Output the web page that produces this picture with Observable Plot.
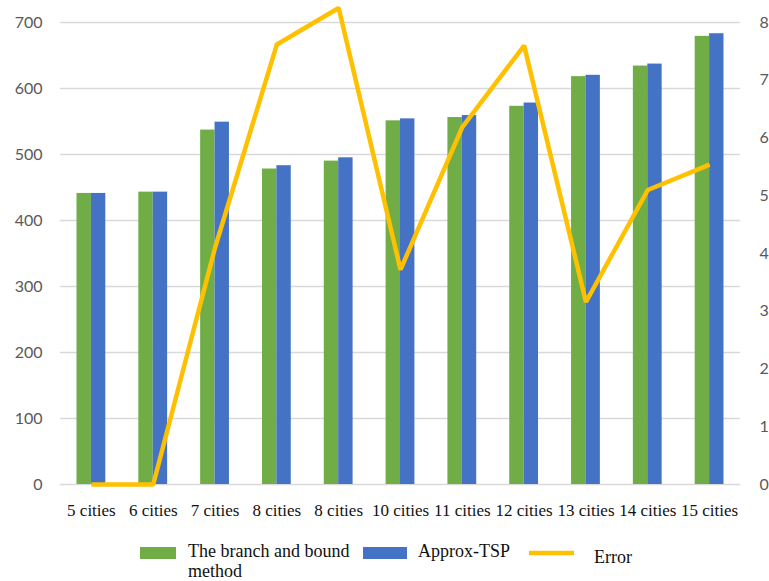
<!DOCTYPE html>
<html>
<head>
<meta charset="utf-8">
<script src="https://cdn.jsdelivr.net/npm/d3@7"></script>
<script src="https://cdn.jsdelivr.net/npm/@observablehq/plot@0.6"></script>
<style>
  html, body { margin: 0; padding: 0; background: #fff; }
  #wrap { position: relative; width: 769px; height: 581px; }
  #legend { position: absolute; left: 0; top: 0; pointer-events: none; }
  #legend text { font-family: "Liberation Serif", "DejaVu Serif", serif; font-size: 18px; fill: #111; }
  #wrap svg g[aria-label="text"] text {
    font-family: "Liberation Serif", "DejaVu Serif", serif !important;
    font-size: 17px !important;
  }
</style>
</head>
<body>
<div id="wrap"></div>
<script>
// Tour lengths per problem size, and the relative error (%) of Approx-TSP
const categories = ["5 cities", "6 cities", "7 cities", "8 cities", "8 cities", "10 cities",
                    "11 cities", "12 cities", "13 cities", "14 cities", "15 cities"];
const branchBound = [441, 443, 537, 478, 490, 551, 556, 573, 618, 634, 679];
const approxTSP   = [441, 443, 549, 483, 495, 554, 559, 578, 620, 637, 683];
const errorPct    = [0, 0, 4.1, 7.62, 8.25, 3.72, 6.19, 7.6, 3.16, 5.1, 5.54];

const leftTicks  = [0, 100, 200, 300, 400, 500, 600, 700];
const rightTicks = [0, 1, 2, 3, 4, 5, 6, 7, 8];

const seriesNames = ["The branch and bound method", "Approx-TSP", "Error"];
const colors = {green: "#70AD47", blue: "#4472C4", gold: "#FFC000"};

// Secondary axis (error) is drawn on the primary scale through a fixed ratio
const ratio = leftTicks[leftTicks.length - 1] / rightTicks[rightTicks.length - 1];

const rows = categories.map((c, i) => ({
  i, label: c, bb: branchBound[i], approx: approxTSP[i], err: errorPct[i]
}));

const W = 769, H = 581;
const margin = {left: 60, right: 29, top: 22, bottom: 97};
const band = (W - margin.left - margin.right) / categories.length;
const barW = 14.4;
const half = band / 2;
const serif = "'Liberation Serif', 'DejaVu Serif', serif";

const chart = Plot.plot({
  width: W,
  height: H,
  marginLeft: margin.left,
  marginRight: margin.right,
  marginTop: margin.top,
  marginBottom: margin.bottom,
  style: {fontFamily: "Lato, 'Open Sans', sans-serif", fontSize: "16px", background: "#fff"},
  x: {type: "band", domain: d3.range(categories.length), padding: 0, round: false, axis: null, label: null},
  y: {domain: [0, 700], axis: null, label: null},
  marks: [
    Plot.gridY({ticks: leftTicks, stroke: "#d9d9d9", strokeOpacity: 1, strokeWidth: 1.4}),
    Plot.barY(rows, {x: "i", y: "bb", fill: colors.green,
                     insetLeft: half - barW, insetRight: half}),
    Plot.barY(rows, {x: "i", y: "approx", fill: colors.blue,
                     insetLeft: half, insetRight: half - barW}),
    Plot.line(rows, {x: "i", y: d => d.err * ratio, stroke: colors.gold,
                     strokeWidth: 4.5, strokeLinejoin: "miter", strokeLinecap: "butt"}),
    Plot.axisY({anchor: "left", ticks: leftTicks, tickSize: 0, tickPadding: 18,
                fill: "#595959", label: null}),
    Plot.axisY({anchor: "right", ticks: rightTicks.map(v => v * ratio),
                tickFormat: v => String(Math.round(v / ratio)),
                tickSize: 0, tickPadding: 19, fill: "#595959", label: null}),
    // category labels under each group
    Plot.text(rows, {x: "i", text: "label", frameAnchor: "bottom", lineAnchor: "top",
                     dy: 19, fontFamily: serif, fontSize: 17, fill: "#111"})
  ]
});

// category labels use the serif face
d3.select(chart).selectAll('g[aria-label="text"] text')
  .style("font-family", serif)
  .style("font-size", "17px");

const wrap = document.getElementById("wrap");
wrap.appendChild(chart);

// Legend row below the plot
const ns = "http://www.w3.org/2000/svg";
const leg = document.createElementNS(ns, "svg");
leg.setAttribute("id", "legend");
leg.setAttribute("width", W);
leg.setAttribute("height", H);
function el(tag, attrs, text) {
  const e = document.createElementNS(ns, tag);
  for (const k in attrs) e.setAttribute(k, attrs[k]);
  if (text != null) e.textContent = text;
  leg.appendChild(e);
  return e;
}
el("rect", {x: 140, y: 547, width: 36, height: 12, fill: colors.green});
const t1 = el("text", {x: 188, y: 557});
const words = seriesNames[0].split(" ");
const line1 = document.createElementNS(ns, "tspan");
line1.setAttribute("x", 188);
line1.textContent = words.slice(0, 4).join(" ");
const line2 = document.createElementNS(ns, "tspan");
line2.setAttribute("x", 188);
line2.setAttribute("dy", 20);
line2.textContent = words.slice(4).join(" ");
t1.appendChild(line1);
t1.appendChild(line2);
el("rect", {x: 363, y: 547, width: 44, height: 12, fill: colors.blue});
el("text", {x: 418, y: 557}, seriesNames[1]);
el("line", {x1: 529, x2: 574, y1: 553, y2: 553, stroke: colors.gold, "stroke-width": 4.5});
el("text", {x: 594, y: 563}, seriesNames[2]);
wrap.appendChild(leg);
</script>
</body>
</html>
